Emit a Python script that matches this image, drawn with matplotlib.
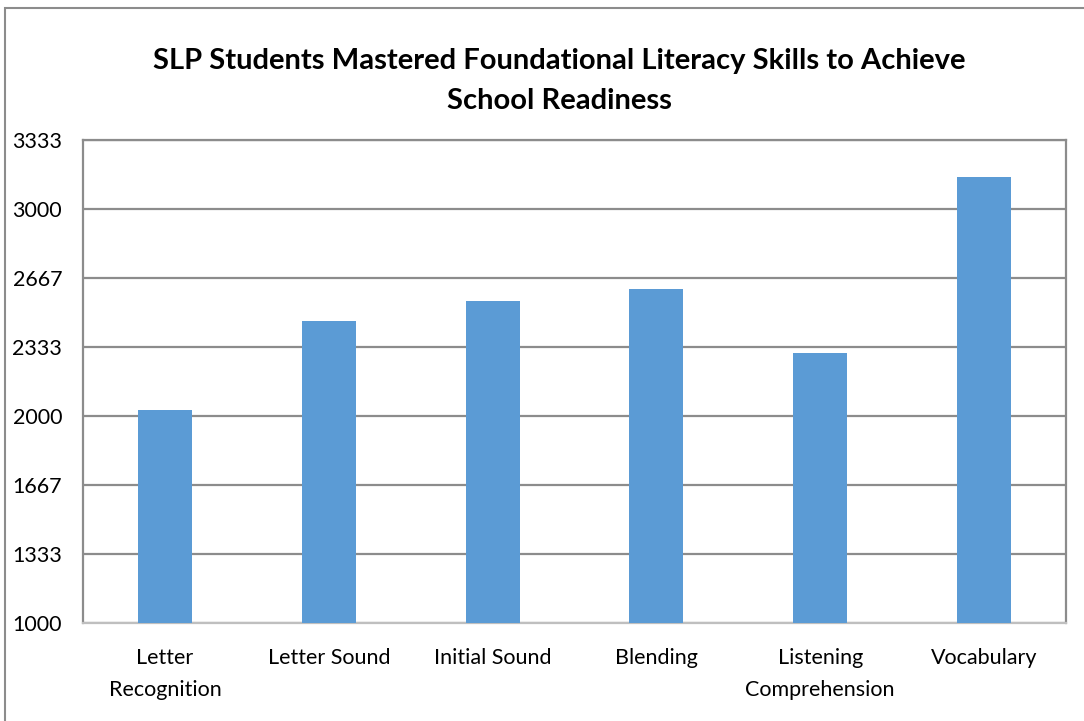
import matplotlib.pyplot as plt
from matplotlib.patches import Rectangle

# Chart data
categories = ["Letter\nRecognition", "Letter Sound", "Initial Sound", "Blending",
              "Listening\nComprehension", "Vocabulary"]
students = [2032, 2462, 2558, 2615, 2304, 3157]
y_ticks = [1000, 1333, 1667, 2000, 2333, 2667, 3000, 3333]

plt.rcParams['font.family'] = ['Lato', 'DejaVu Sans']

fig = plt.figure(figsize=(10.84, 7.21), dpi=100)
ax = fig.add_axes([83 / 1084, 1 - 623 / 721, (1066 - 83) / 1084, (623 - 140.5) / 721])

x = list(range(len(categories)))
ax.bar(x, students, width=0.33, color="#5b9bd5", bottom=0, zorder=3)

ax.set_xlim(-0.5, len(categories) - 0.5)
ax.set_ylim(1000, 3333)
ax.set_yticks(y_ticks)
ax.set_yticklabels([str(t) for t in y_ticks], fontsize=15.5)
ax.set_xticks(x)
ax.set_xticklabels(categories, fontsize=15.5, linespacing=1.75)
ax.tick_params(axis='both', length=0, colors="#000000")
ax.tick_params(axis='x', pad=18)
ax.tick_params(axis='y', pad=15)

ax.yaxis.grid(True, color="#8c8c8c", linewidth=1.6, zorder=0)
for s in ax.spines.values():
    s.set_color("#8c8c8c")
    s.set_linewidth(1.6)
ax.spines['bottom'].set_color("#bfbfbf")

fig.text(559 / 1084, 1 - 81 / 721,
         "SLP Students Mastered Foundational Literacy Skills to Achieve\nSchool Readiness",
         ha="center", va="center", fontsize=21, fontweight="bold", linespacing=1.65)

# outer chart frame
fig.patches.append(Rectangle((5 / 1084, -0.1), 1.2, 1 - 8 / 721 + 0.1,
                             transform=fig.transFigure, fill=False,
                             edgecolor="#8c8c8c", linewidth=1.5))

fig.savefig("out.png", dpi=100)
